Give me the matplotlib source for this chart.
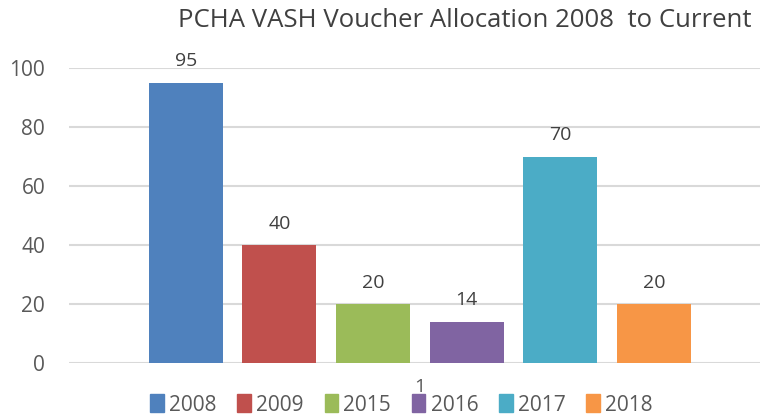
import matplotlib.pyplot as plt
import numpy as np

years = ["2008", "2009", "2015", "2016", "2017", "2018"]
vouchers = [95, 40, 20, 14, 70, 20]
colors = ["#4F81BD", "#C0504D", "#9BBB59", "#8064A2", "#4BACC6", "#F79646"]
yticks = [0, 20, 40, 60, 80, 100]
category = "1"

plt.rcParams['font.family'] = ['Open Sans', 'DejaVu Sans']

fig = plt.figure(figsize=(7.65, 4.18), dpi=100)
ax = fig.add_axes([0.090, 0.1316, 0.903, 0.7055])

x = np.arange(len(years))
bars = ax.bar(x, vouchers, width=0.79, color=colors, label=years, zorder=3)
for b, v in zip(bars, vouchers):
    ax.annotate(str(v), (b.get_x() + b.get_width() / 2, v), xytext=(0, 9),
                textcoords="offset points", ha="center", va="bottom",
                fontsize=14, color="#404040")

ax.set_xlim(-1.25, 6.13)
ax.set_ylim(0, 100)
ax.set_yticks(yticks)
ax.yaxis.grid(True, color="#d9d9d9", linewidth=1.5, zorder=0)
# single category label, ends up tucked behind the legend
ax.set_xticks([(len(years) - 1) / 2])
ax.set_xticklabels([category])
for s in ax.spines.values():
    s.set_visible(False)
ax.tick_params(axis="y", length=0, labelsize=15, labelcolor="#595959", pad=17)
ax.tick_params(axis="x", length=0, labelsize=14, labelcolor="#595959", pad=11)

fig.text(0.607, 0.952, "PCHA VASH Voucher Allocation 2008  to Current", ha="center", va="center",
         fontsize=18.5, color="#404040")

handles = [plt.Rectangle((0, 0), 1, 1, color=c) for c in colors]
fig.legend(handles, years, loc="center", bbox_to_anchor=(0.525, 0.031), ncol=6, frameon=False,
           fontsize=15, handlelength=0.65, handleheight=0.95, handletextpad=0.25,
           columnspacing=1.0, labelcolor="#595959", borderpad=0)

fig.savefig("out.png", dpi=100)
